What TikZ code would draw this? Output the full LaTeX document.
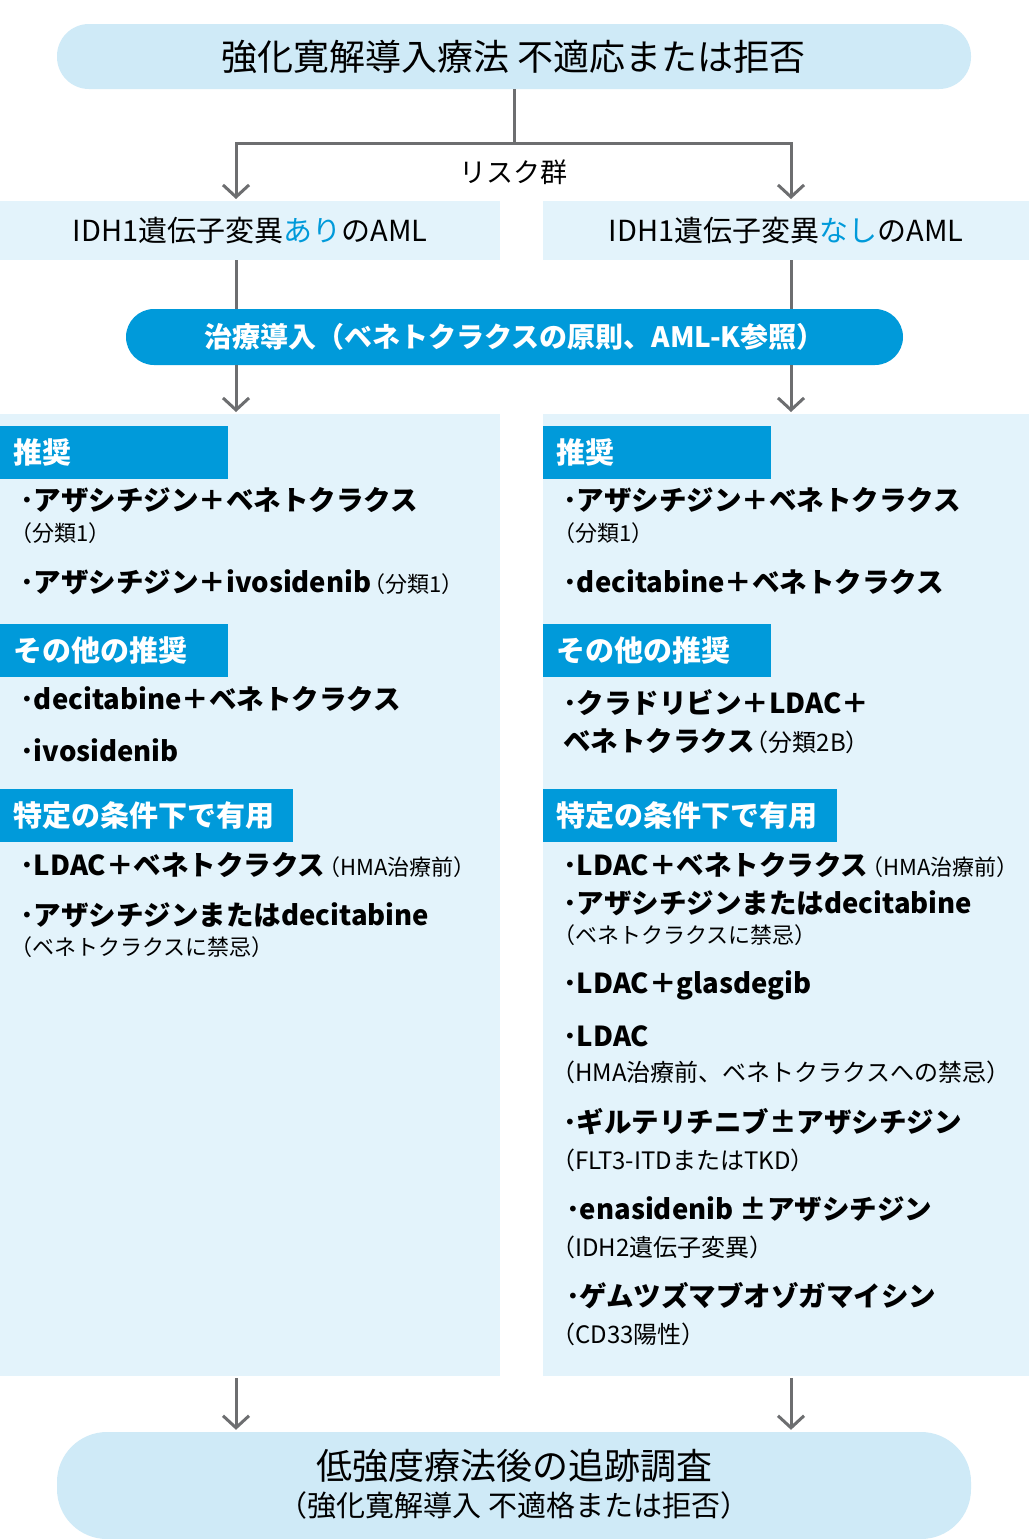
\documentclass[tikz,border=0pt]{standalone}
\usepackage{fontspec}
\setmainfont{Noto Sans CJK JP}
\usetikzlibrary{arrows.meta}
\definecolor{pillc}{HTML}{CFEAF7}
\definecolor{boxc}{HTML}{E3F3FB}
\definecolor{hblue}{HTML}{009ADA}
\definecolor{linec}{HTML}{6D6E70}
\newcommand\myfs[1]{\fontsize{#1}{#1}\selectfont}
\newcommand\smallp[2]{\hspace{#1}{\mdseries\myfs{22}#2}}
\begin{document}
\begin{tikzpicture}[x=1pt,y=-1pt,
  pill/.style={fill=pillc, draw=none, inner sep=0pt},
  boxA/.style={fill=boxc, draw=none, inner sep=0pt},
  hdr/.style={fill=hblue, draw=none, text=white, anchor=north west, inner xsep=13pt, inner ysep=0pt,
    minimum height=53pt, align=left, font={\bfseries\myfs{29}}},
  itm/.style={anchor=west, inner sep=0pt, font={\bfseries\myfs{27.5}}},
  sub/.style={anchor=west, inner sep=0pt, font={\myfs{22}}},
  subb/.style={anchor=west, inner sep=0pt, font={\myfs{24}}},
  ln/.style={draw=linec, line width=3pt},
  arr/.style={draw=linec, line width=3pt, -{Straight Barb[length=12pt,width=26pt]}}
]
\useasboundingbox (0,0) rectangle (1029,1539);
\fill[white] (0,0) rectangle (1029,1539);

% top pill
\node[pill, minimum width=914pt, minimum height=65pt, rounded corners=32pt, font=\myfs{36}] (top) at (514,56.5) {強化寛解導入療法 不適応または拒否};
\node[inner sep=0pt, font=\myfs{27}] (risk) at (513,172) {リスク群};

% IDH boxes
\node[boxA, anchor=north west, minimum width=500pt, minimum height=59pt, font=\myfs{29}] (boxL) at (0,201) {IDH1遺伝子変異\textcolor{hblue}{あり}のAML};
\node[boxA, anchor=north west, minimum width=486pt, minimum height=59pt, font=\myfs{29}] (boxR) at (543,201) {IDH1遺伝子変異\textcolor{hblue}{なし}のAML};

% treatment pill
\node[fill=hblue, draw=none, inner sep=0pt, text=white, minimum width=777pt, minimum height=56pt, rounded corners=28pt, font={\bfseries\myfs{28}}] (treat) at (514.5,337) {治療導入（ベネトクラクスの原則、AML-K参照）};

% panels
\node[boxA, anchor=north west, minimum width=500pt, minimum height=962pt] (panL) at (0,414) {};
\node[boxA, anchor=north west, minimum width=486pt, minimum height=962pt] (panR) at (543,414) {};

% bottom pill
\node[pill, minimum width=914pt, minimum height=107pt, rounded corners=50pt] (bot) at (514,1485.5) {};
\node[inner sep=0pt, font=\myfs{36}] (bot1) at (514,1466) {低強度療法後の追跡調査};
\node[inner sep=0pt, font=\myfs{29}] (bot2) at (514,1505) {（強化寛解導入 不適格または拒否）};

% connectors
\coordinate (kL) at (236,143);
\coordinate (kR) at (791,143);
\draw[arr, shorten >=2pt] (top.south) |- (kL) -- (kL |- boxL.north);
\draw[arr, shorten >=2pt] (top.south) |- (kR) -- (kR |- boxR.north);
\draw[ln] (kL |- boxL.south) -- (kL |- treat.north);
\draw[ln] (kR |- boxR.south) -- (kR |- treat.north);
\draw[arr, shorten >=2pt] (kL |- treat.south) -- (kL |- panL.north);
\draw[arr, shorten >=2pt] (kR |- treat.south) -- (kR |- panR.north);
\draw[arr, shorten <=2pt, shorten >=2pt] (kL |- panL.south) -- (kL |- bot.north);
\draw[arr, shorten <=2pt, shorten >=2pt] (kR |- panR.south) -- (kR |- bot.north);

% left panel
\node[hdr, text width=202pt] (hL1) at (0,426) {推奨};
\node[itm] (l1) at (20,500) {･アザシチジン＋ベネトクラクス};
\node[sub] (l2) at (10,533) {（分類1）};
\node[itm] (l3) at (20,582) {･アザシチジン＋ivosidenib\smallp{-8pt}{（分類1）}};
\node[hdr, text width=202pt] (hL2) at (0,624) {その他の推奨};
\node[itm] (l4) at (20,699) {･decitabine＋ベネトクラクス};
\node[itm] (l5) at (20,750) {･ivosidenib};
\node[hdr, text width=267pt] (hL3) at (0,789) {特定の条件下で有用};
\node[itm] (l6) at (20,865) {･LDAC＋ベネトクラクス\smallp{-7pt}{（HMA治療前）}};
\node[itm] (l7) at (20,915) {･アザシチジンまたはdecitabine};
\node[sub] (l8) at (10,947) {（ベネトクラクスに禁忌）};

% right panel
\node[hdr, text width=202pt] (hR1) at (543,426) {推奨};
\node[itm] (r1) at (563,500) {･アザシチジン＋ベネトクラクス};
\node[sub] (r2) at (553,533) {（分類1）};
\node[itm] (r3) at (563,582) {･decitabine＋ベネトクラクス};
\node[hdr, text width=202pt] (hR2) at (543,624) {その他の推奨};
\node[itm] (r4) at (563,703) {･クラドリビン＋LDAC＋};
\node[itm] (r5) at (563,741) {ベネトクラクス\hspace{-10pt}{\mdseries\myfs{24}（分類2B）}};
\node[hdr, text width=268pt] (hR3) at (543,789) {特定の条件下で有用};
\node[itm] (r6) at (563,865) {･LDAC＋ベネトクラクス\smallp{-7pt}{（HMA治療前）}};
\node[itm] (r7) at (563,903) {･アザシチジンまたはdecitabine};
\node[sub] (r8) at (553,935) {（ベネトクラクスに禁忌）};
\node[itm] (r9) at (563,985) {･LDAC＋glasdegib};
\node[itm] (r10) at (563,1036) {･LDAC};
\node[subb] (r11) at (551,1072) {（HMA治療前、ベネトクラクスへの禁忌）};
\node[itm] (r12) at (563,1122) {･ギルテリチニブ±アザシチジン};
\node[subb] (r13) at (551,1160) {（FLT3-ITDまたはTKD）};
\node[itm] (r14) at (566,1209) {･enasidenib ±アザシチジン};
\node[subb] (r15) at (551,1247) {（IDH2遺伝子変異）};
\node[itm] (r16) at (566,1296) {･ゲムツズマブオゾガマイシン};
\node[subb] (r17) at (551,1334) {（CD33陽性）};
\end{tikzpicture}
\end{document}
